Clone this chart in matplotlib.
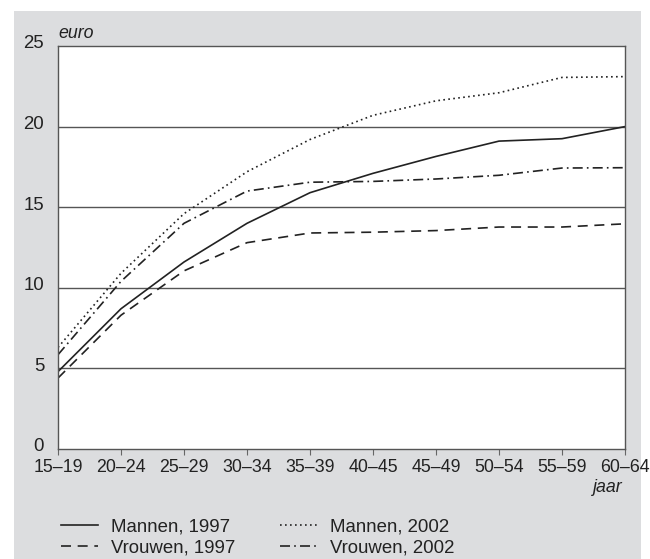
import matplotlib.pyplot as plt
from matplotlib.patches import Rectangle
import matplotlib.transforms as mtransforms

plt.rcParams['font.family'] = ['Liberation Sans', 'DejaVu Sans']

leeftijd = ['15–19', '20–24', '25–29', '30–34', '35–39', '40–45',
            '45–49', '50–54', '55–59', '60–64']
mannen_1997 = [4.8, 8.7, 11.6, 14.0, 15.9, 17.1, 18.15, 19.1, 19.25, 20.0]
vrouwen_1997 = [4.4, 8.3, 11.05, 12.8, 13.4, 13.45, 13.55, 13.77, 13.77, 13.97]
mannen_2002 = [6.3, 10.9, 14.6, 17.2, 19.2, 20.7, 21.6, 22.1, 23.05, 23.1]
vrouwen_2002 = [5.85, 10.4, 14.0, 16.0, 16.55, 16.6, 16.75, 16.98, 17.43, 17.45]
y_ticks = [0, 5, 10, 15, 20, 25]

W, H = 650, 559
fig = plt.figure(figsize=(6.5, 5.59), dpi=100)
fig.patch.set_facecolor('white')

# grijs paneel
fig.patches.append(Rectangle((14 / W, 0), (641 - 14) / W, 1 - 11 / H,
                             transform=fig.transFigure, facecolor='#dcdddf',
                             edgecolor='none', zorder=-10))

ax = fig.add_axes([58 / W, 1 - 449 / H, (625 - 58) / W, (449 - 46) / H])
ax.set_facecolor('white')

x = range(len(leeftijd))
fs = 12.8
ink = '#222222'

l1, = ax.plot(x, mannen_1997, color=ink, lw=1.2, ls='-', label='Mannen, 1997')
l2, = ax.plot(x, vrouwen_1997, color=ink, lw=1.2, ls=(0, (6, 4)), label='Vrouwen, 1997')
l3, = ax.plot(x, mannen_2002, color=ink, lw=1.2, ls=(0, (1, 2)), label='Mannen, 2002')
l4, = ax.plot(x, vrouwen_2002, color=ink, lw=1.2, ls=(0, (6, 2.5, 1, 2.5)), label='Vrouwen, 2002')

ax.set_xlim(0, len(leeftijd) - 1)
ax.set_ylim(0, 25)
ax.set_xticks(list(x))
ax.set_xticklabels(leeftijd, fontsize=fs, color=ink)
ax.set_yticks(y_ticks)
ax.set_yticklabels([str(v) for v in y_ticks], fontsize=13.4, color=ink)
ax.tick_params(axis='x', direction='out', length=4, width=0.8, color='#666666', pad=3)
ax.tick_params(axis='y', length=0, pad=10)

for yv in y_ticks[1:-1]:
    ax.axhline(yv, color='#555555', lw=1.0, zorder=1)

for s in ax.spines.values():
    s.set_color('#555555')
    s.set_linewidth(1.0)

# y-labels iets omhoog
offset = mtransforms.ScaledTranslation(0, 3 / 72, fig.dpi_scale_trans)
for lab in ax.get_yticklabels():
    lab.set_transform(lab.get_transform() + offset)

fig.text(58 / W, 1 - 34 / H, 'euro', style='italic', fontsize=fs, color=ink,
         ha='left', va='center')
fig.text(623 / W, 1 - 488 / H, 'jaar', style='italic', fontsize=fs, color=ink,
         ha='right', va='center')

fig.legend(handles=[l1, l2, l3, l4], ncol=2, loc='upper left',
           bbox_to_anchor=(61 / W, 1 - 518 / H), frameon=False, fontsize=13.4,
           handlelength=2.0, handletextpad=0.7, columnspacing=2.4,
           labelspacing=0.22, borderpad=0, borderaxespad=0, labelcolor=ink)

plt.savefig('out.png', dpi=100)
